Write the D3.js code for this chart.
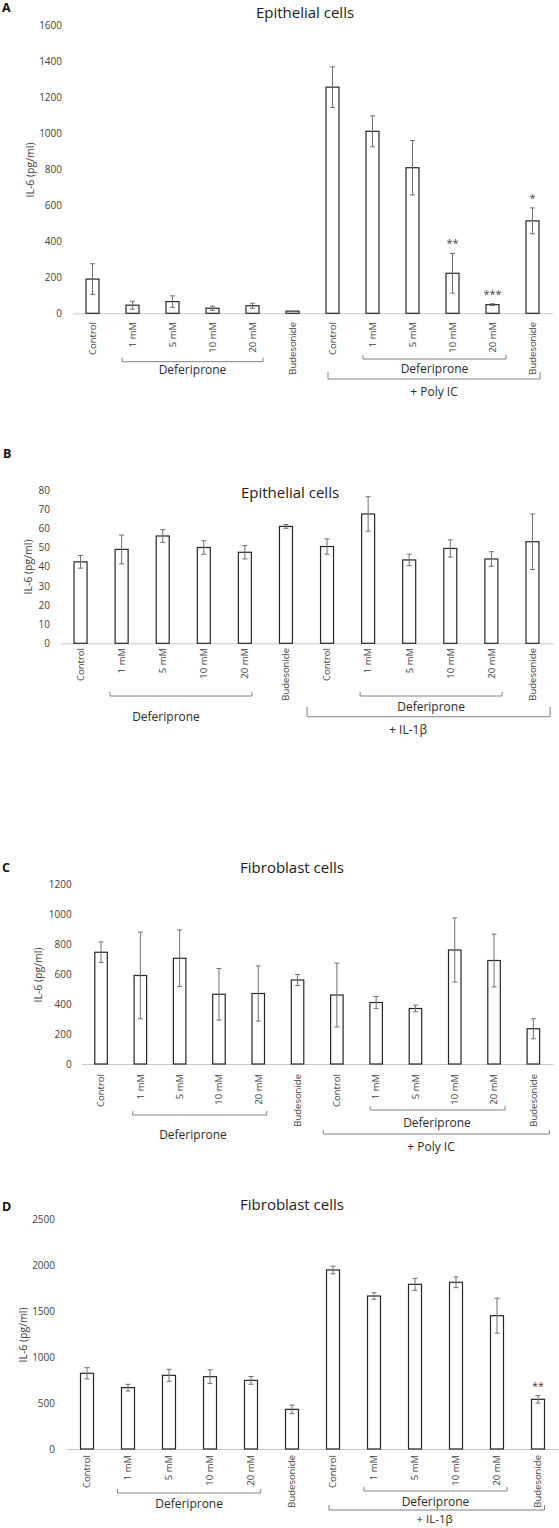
<!DOCTYPE html>
<html><head><meta charset="utf-8">
<script src="https://cdn.jsdelivr.net/npm/d3@7"></script>
<style>body{margin:0;background:#fff}svg{display:block;font-family:'Open Sans',sans-serif}</style>
</head><body><svg id="c" width="559" height="1528"></svg>
<script>
// ---------- data ----------
const categories = ["Control","1 mM","5 mM","10 mM","20 mM","Budesonide","Control","1 mM","5 mM","10 mM","20 mM","Budesonide"];

const valuesA = [190,45,65,28,42,12,1255,1010,808,222,48,513];
const errorsA = [85,22,32,12,14,0,113,86,151,110,5,72];
const starsA  = ["","","","","","","","","","**","***","*"];
const ticksA  = [0,200,400,600,800,1000,1200,1400,1600];

const valuesB = [42.5,49,56,50,47.5,61,50.5,67.5,43.5,49.5,44,53];
const errorsB = [3.3,7.5,3.3,3.5,3.5,1,4,9,3,4.5,3.8,14.5];
const starsB  = ["","","","","","","","","","","",""];
const ticksB  = [0,10,20,30,40,50,60,70,80];

const valuesC = [745,590,705,465,470,560,460,410,370,760,690,235];
const errorsC = [69,289,189,172,184,37,213,40,22,214,176,67];
const starsC  = ["","","","","","","","","","","",""];
const ticksC  = [0,200,400,600,800,1000,1200];

const valuesD = [823,667,801,786,746,431,1946,1663,1790,1812,1449,540];
const errorsD = [61,36,65,75,42,47,42,36,65,58,190,41];
const starsD  = ["","","","","","","","","","","","**"];
const ticksD  = [0,500,1000,1500,2000,2500];

const titles   = ["Epithelial cells","Epithelial cells","Fibroblast cells","Fibroblast cells"];
const letters  = ["A","B","C","D"];
const stimuli  = ["+ Poly IC","+ IL-1β","+ Poly IC","+ IL-1β"];
const drugName = "Deferiprone";
const yTitle   = "IL-6 (pg/ml)";

// ---------- layout ----------
const panels = [
  {values:valuesA, errors:errorsA, stars:starsA, ticks:ticksA, yMax:1600,
   x0:72.5, x1:552.5, bw:13, y0:313.3, yTop:25, tickX:62, axT:[30,170], labelTop:322,
   letter:[2,12], title:[305,18],
   left:{i:1,j:4,pl:-10.5,pr:10.5,y:361.7,h:4,ty:374},
   inner:{i:7,j:10,pl:-9.5,pr:13.5,y:359,h:4,ty:373},
   outer:{i:6,j:11,pl:-4.5,pr:7.5,y:379,h:7,ty:396}},
  {values:valuesB, errors:errorsB, stars:starsB, ticks:ticksB, yMax:80,
   x0:60, x1:553, bw:13, y0:643.3, yTop:490, tickX:50, axT:[28,567], labelTop:648,
   letter:[3,458], title:[290,498],
   left:{i:1,j:4,pl:-11.6,pr:7,y:696,h:4,ty:721,tx:166},
   inner:{i:7,j:10,pl:-8,pr:10.6,y:696,h:4,ty:711},
   outer:{i:6,j:11,pl:-20,pr:17.7,y:716.7,h:10,ty:734,tx:408}},
  {values:valuesC, errors:errorsC, stars:starsC, ticks:ticksC, yMax:1200,
   x0:81.4, x1:553, bw:12.5, y0:1064, yTop:884, tickX:71.7, axT:[38,975], labelTop:1074,
   letter:[2,872], title:[292,873],
   left:{i:1,j:4,pl:-7.6,pr:8.6,y:1115,h:4,ty:1139,tx:193},
   inner:{i:7,j:10,pl:-6,pr:11,y:1110,h:4,ty:1127,tx:437},
   outer:{i:6,j:11,pl:-13.6,pr:16,y:1134,h:4,ty:1151,tx:431}},
  {values:valuesD, errors:errorsD, stars:starsD, ticks:ticksD, yMax:2500,
   x0:66.5, x1:558.5, bw:13, y0:1449, yTop:1219, tickX:55, axT:[23,1335], labelTop:1455,
   letter:[2,1211], title:[292,1210],
   left:{i:1,j:4,pl:-10.5,pr:9.7,y:1493,h:4,ty:1508},
   inner:{i:7,j:10,pl:-10,pr:10,y:1491,h:4,ty:1506},
   outer:{i:6,j:11,pl:-4,pr:6.5,y:1510,h:5,ty:1523,tx:434.6,fs:11.5}}
];

const svg = d3.select("#c");
const TXT = "#404040", DARK = "#2a2a2a";

panels.forEach((p, k) => {
  const g = svg.append("g");
  const step = (p.x1 - p.x0) / categories.length;
  const pad = 1 - p.bw / step;
  const x = d3.scaleBand().domain(d3.range(categories.length)).range([p.x0, p.x1])
    .paddingInner(pad).paddingOuter(pad / 2);
  const cx = i => x(i) + x.bandwidth() / 2;
  const y = d3.scaleLinear().domain([0, p.yMax]).range([p.y0, p.yTop]);

  // letter & title
  g.append("text").attr("x", p.letter[0]).attr("y", p.letter[1]).text(letters[k])
    .attr("font-weight", "bold").attr("font-size", 12.5).attr("fill", "#111");
  g.append("text").attr("x", p.title[0]).attr("y", p.title[1]).text(titles[k])
    .attr("text-anchor", "middle").attr("font-size", 15).attr("fill", "#1a1a1a");

  // y axis (labels only)
  const ya = g.append("g").attr("transform", `translate(${p.tickX},0)`)
    .call(d3.axisLeft(y).tickValues(p.ticks).tickSize(0).tickPadding(0).tickFormat(d3.format("d")));
  ya.select(".domain").remove();
  ya.selectAll("text").attr("font-family", "'Open Sans',sans-serif").attr("font-size", 10).attr("fill", TXT);

  g.append("text").attr("transform", `translate(${p.axT[0]},${p.axT[1]}) rotate(-90)`)
    .attr("text-anchor", "middle").attr("dy", "0.35em").attr("font-size", 10.5).attr("fill", TXT).text(yTitle);

  // x axis
  const xa = g.append("g").attr("transform", `translate(0,${p.y0})`)
    .call(d3.axisBottom(x).tickSize(0).tickFormat(i => categories[i]));
  xa.select(".domain").attr("stroke", "#c8c8c8").attr("stroke-width", 1);
  xa.selectAll("text").attr("font-family", "'Open Sans',sans-serif").attr("font-size", 9.5).attr("fill", TXT)
    .attr("y", 0).attr("dy", "0.35em").attr("text-anchor", "end")
    .attr("transform", `translate(0,${p.labelTop - p.y0}) rotate(-90)`);

  // bars
  g.selectAll("rect.bar").data(p.values).join("rect").attr("class", "bar")
    .attr("x", (d, i) => x(i)).attr("width", x.bandwidth())
    .attr("y", d => y(d)).attr("height", d => p.y0 - y(d))
    .attr("fill", "#fff").attr("stroke", "#262626").attr("stroke-width", 1.2);

  // error bars
  const eg = g.append("g").attr("stroke", "#707070").attr("stroke-width", 1);
  p.values.forEach((v, i) => {
    const e = p.errors[i];
    if (!e) return;
    const c = cx(i), t = y(v + e), b = y(Math.max(0, v - e));
    eg.append("line").attr("x1", c).attr("x2", c).attr("y1", t).attr("y2", b);
    eg.append("line").attr("x1", c - 2.5).attr("x2", c + 2.5).attr("y1", t).attr("y2", t);
    eg.append("line").attr("x1", c - 2.5).attr("x2", c + 2.5).attr("y1", b).attr("y2", b);
  });

  // significance stars
  p.stars.forEach((s, i) => {
    if (!s) return;
    g.append("text").attr("x", cx(i)).attr("y", y(p.values[i] + p.errors[i]) - 6)
      .attr("text-anchor", "middle").attr("font-size", 11).attr("fill", TXT).text(s);
  });

  // brackets
  const bracket = (b, label) => {
    const xa1 = cx(b.i) + b.pl, xa2 = cx(b.j) + b.pr;
    g.append("path").attr("d", `M${xa1},${b.y - b.h}V${b.y}H${xa2}V${b.y - b.h}`)
      .attr("fill", "none").attr("stroke", "#808080").attr("stroke-width", 1);
    g.append("text").attr("x", b.tx != null ? b.tx : (xa1 + xa2) / 2).attr("y", b.ty)
      .attr("text-anchor", "middle").attr("font-size", b.fs || 12).attr("fill", DARK).text(label);
  };
  bracket(p.left, drugName);
  bracket(p.inner, drugName);
  bracket(p.outer, stimuli[k]);
});
</script></body></html>
